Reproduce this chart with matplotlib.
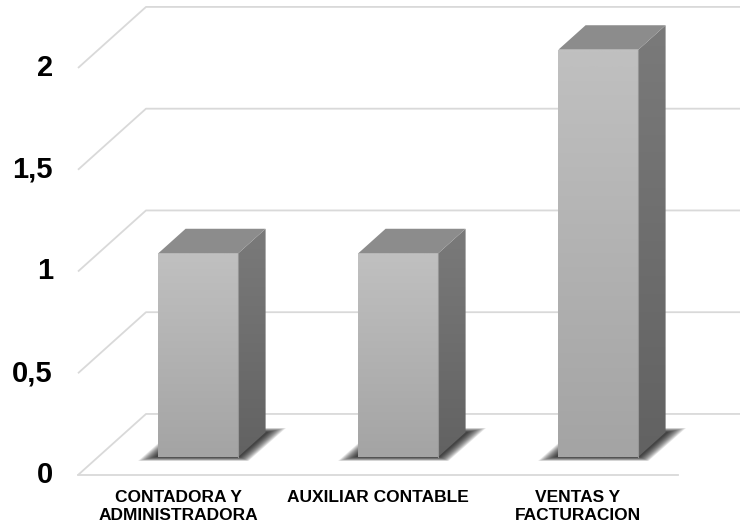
import numpy as np
import matplotlib
matplotlib.use("Agg")
import matplotlib.pyplot as plt
from matplotlib.patches import Polygon

# Données du graphique
categories = ["CONTADORA Y\nADMINISTRADORA", "AUXILIAR CONTABLE", "VENTAS Y\nFACTURACION"]
valeurs = [1, 1, 2]
graduations = [0, 0.5, 1, 1.5, 2]
etiquettes = ["0", "0,5", "1", "1,5", "2"]

# Perspective oblique (décalage pour une profondeur complète)
DX, DY = 0.34, 0.30
LARGEUR = 0.4
D_AVANT, D_ARRIERE = 0.3, 0.7


def proj(x, y, d):
    return (x + DX * d, y + DY * d)


def remplir_degrade(ax, pts, haut, bas, z):
    """Remplit un polygone avec un dégradé vertical."""
    patch = Polygon(pts, closed=True, facecolor="none", edgecolor="none")
    ax.add_patch(patch)
    xs, ys = zip(*pts)
    t = np.linspace(0, 1, 64)[:, None]
    c = np.array(haut)[None, :] * (1 - t) + np.array(bas)[None, :] * t
    im = ax.imshow(c.reshape(64, 1, 3), extent=[min(xs), max(xs), min(ys), max(ys)],
                   origin="upper", aspect="auto", zorder=z, interpolation="bilinear")
    im.set_clip_path(patch)


def gris(v):
    return (v / 255, v / 255, v / 255)


fig = plt.figure(figsize=(7.4, 5.32), dpi=100)
ax = fig.add_axes([0, 0, 1, 1])
ax.axis("off")

n = len(categories)
x_min, x_max = -0.5, n - 0.5

# Quadrillage : paroi gauche + mur du fond
for v in graduations:
    ax.plot([x_min, x_min + DX, x_max + DX], [v, v + DY, v + DY],
            color="#d9d9d9", lw=1.3, zorder=1, solid_capstyle="butt")
# Bord avant du sol
ax.plot([x_min, x_max], [0, 0], color="#d9d9d9", lw=1.3, zorder=1)

# Barres 3D
for i, v in enumerate(valeurs):
    x0, x1 = i - LARGEUR / 2, i + LARGEUR / 2

    # Ombre douce au pied de la barre
    base = np.array([proj(x0, 0, D_AVANT), proj(x1, 0, D_AVANT),
                     proj(x1, 0, D_ARRIERE), proj(x0, 0, D_ARRIERE)])
    c0 = base.mean(axis=0)
    for k in range(14):
        sx = 1.38 - 0.025 * k
        sy = 1.35 - 0.025 * k
        pts = c0 + (base - c0) * np.array([sx, sy])
        ax.add_patch(Polygon(pts, closed=True, facecolor="black", edgecolor="none",
                             alpha=0.085, zorder=2))

    face = [proj(x0, 0, D_AVANT), proj(x1, 0, D_AVANT), proj(x1, v, D_AVANT), proj(x0, v, D_AVANT)]
    cote = [proj(x1, 0, D_AVANT), proj(x1, 0, D_ARRIERE), proj(x1, v, D_ARRIERE), proj(x1, v, D_AVANT)]
    dessus = [proj(x0, v, D_AVANT), proj(x1, v, D_AVANT), proj(x1, v, D_ARRIERE), proj(x0, v, D_ARRIERE)]

    remplir_degrade(ax, face, gris(192), gris(164), 3)
    remplir_degrade(ax, cote, gris(122), gris(98), 3)
    ax.add_patch(Polygon(dessus, closed=True, facecolor=gris(140), edgecolor="none", zorder=3))
    ax.plot([face[1][0], face[2][0]], [face[1][1], face[2][1]], color=gris(150), lw=0.8, zorder=4)

# Étiquettes de l'axe des valeurs
for v, lbl in zip(graduations, etiquettes):
    ax.text(-0.625, v, lbl, ha="right", va="center", fontsize=21, fontweight="bold",
            family="Liberation Sans", color="black")

# Étiquettes des catégories
for i, cat in enumerate(categories):
    ax.text(i, -0.075, cat, ha="center", va="top", fontsize=12.5, fontweight="bold",
            family="Liberation Sans", color="black", linespacing=1.2)

ax.set_xlim(-0.89, 2.81)
ax.set_ylim(-0.28, 2.334)

fig.savefig("out.png", dpi=100, facecolor="white")
